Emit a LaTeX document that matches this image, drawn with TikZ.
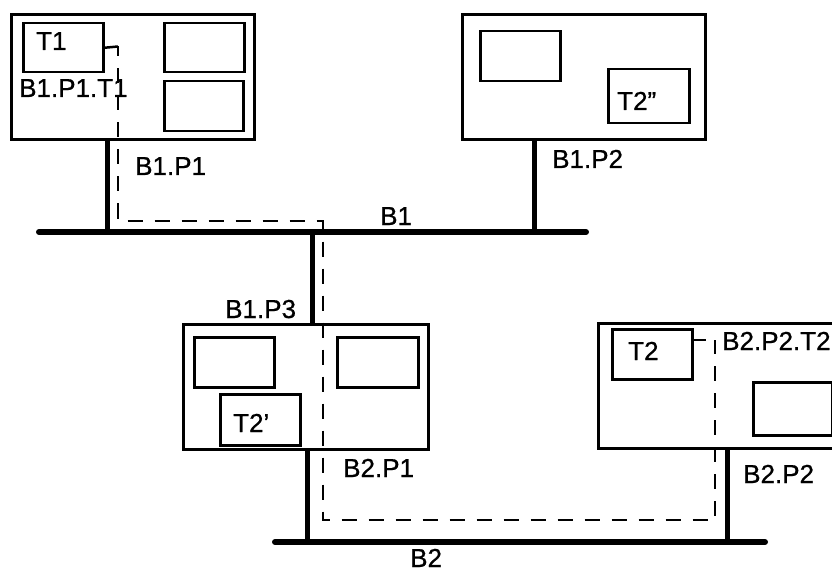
\documentclass[tikz,border=0pt]{standalone}
\usepackage{fontspec}
\setmainfont{Liberation Sans}[FakeBold=0.8]
\begin{document}
\begin{tikzpicture}[x=1pt,y=-1pt,
  outerbox/.style={draw, line width=3pt, inner sep=0pt, anchor=north west},
  innerbox/.style={draw, line width=2.5pt, inner sep=0pt, anchor=north west},
  lbl/.style={anchor=base west, inner sep=0pt, font=\fontsize{26}{30}\selectfont},
  bus/.style={line width=6pt, line cap=round},
  stem/.style={line width=5pt},
  route/.style={line width=2.5pt, dash pattern=on 15pt off 12pt}]
\clip (0,0) rectangle (832,572);
\fill[white] (0,0) rectangle (832,572);
% stations
\node[outerbox, minimum width=243pt, minimum height=125pt] (P11) at (10,13) {};
\node[innerbox, minimum width=80pt, minimum height=49pt] (T1) at (22,22) {};
\node[innerbox, minimum width=80pt, minimum height=49pt] (P11a) at (163,22) {};
\node[innerbox, minimum width=79pt, minimum height=50pt] (P11b) at (163,80) {};
\node[outerbox, minimum width=243pt, minimum height=125pt] (P12) at (461,13) {};
\node[innerbox, minimum width=80pt, minimum height=50pt] (P12a) at (479,30) {};
\node[innerbox, minimum width=81pt, minimum height=54pt] (T2pp) at (607,68) {};
\node[outerbox, minimum width=245pt, minimum height=125pt] (P13) at (182,323) {};
\node[innerbox, minimum width=80pt, minimum height=50pt] (P13a) at (193,336) {};
\node[innerbox, minimum width=81pt, minimum height=50pt] (P13b) at (336,336) {};
\node[innerbox, minimum width=80pt, minimum height=51pt] (T2p) at (219,393) {};
\node[outerbox, minimum width=260pt, minimum height=125pt] (P22) at (597,322) {};
\node[innerbox, minimum width=80pt, minimum height=50pt] (T2) at (611,328) {};
\node[innerbox, minimum width=79pt, minimum height=53pt] (P22a) at (752,381) {};
% buses
\coordinate (B1w) at (39,232);
\coordinate (B1e) at (586,232);
\coordinate (B2w) at (275,542);
\coordinate (B2e) at (765,542);
\draw[bus] (B1w) -- (B1e);
\draw[bus] (B2w) -- (B2e);
% stems
\coordinate (s11) at (107,232);
\coordinate (s12) at (534,232);
\coordinate (s13) at (312,232);
\coordinate (s21) at (307,542);
\coordinate (s22) at (727,542);
\draw[stem] (P11.south -| s11) -- (s11);
\draw[stem] (P12.south -| s12) -- (s12);
\draw[stem] (s13) -- (P13.north -| s13);
\draw[stem] (P13.south -| s21) -- (s21);
\draw[stem] (P22.south -| s22) -- (s22);
% route
\coordinate (r1) at (118,46.5);
\coordinate (r2) at (118,221);
\coordinate (r3) at (323,221);
\coordinate (r4) at (323,520);
\coordinate (r5) at (715,520);
\coordinate (r6) at (715,340);
\coordinate (r7) at (691,340);
\coordinate (r8) at (706,340);
\draw[line width=2.5pt] (T1.east) -- (r1);
\draw[line width=2.5pt] (r7) -- (r8);
\draw[route, dash phase=5pt] (r1) -- (r2) -- (r3) -- (r4) -- (r5) -- (r6);
% labels
\node[lbl] (lT1) at (36,50) {T1};
\node[lbl] (lT2pp) at (617,110) {T2''};
\node[lbl] (lT2p) at (233,432) {T2'};
\node[lbl] (lT2) at (628,360) {T2};
\node[lbl] (l1) at (19,97) {B1.P1.T1};
\node[lbl] (l2) at (135,175) {B1.P1};
\node[lbl] (l3) at (552,168) {B1.P2};
\node[lbl] (l4) at (380,225) {B1};
\node[lbl] (l5) at (225,318) {B1.P3};
\node[lbl] (l6) at (343,477) {B2.P1};
\node[lbl] (l7) at (743,483) {B2.P2};
\node[lbl] (l8) at (722,350) {B2.P2.T2};
\node[lbl] (l9) at (410,567) {B2};
\end{tikzpicture}
\end{document}
